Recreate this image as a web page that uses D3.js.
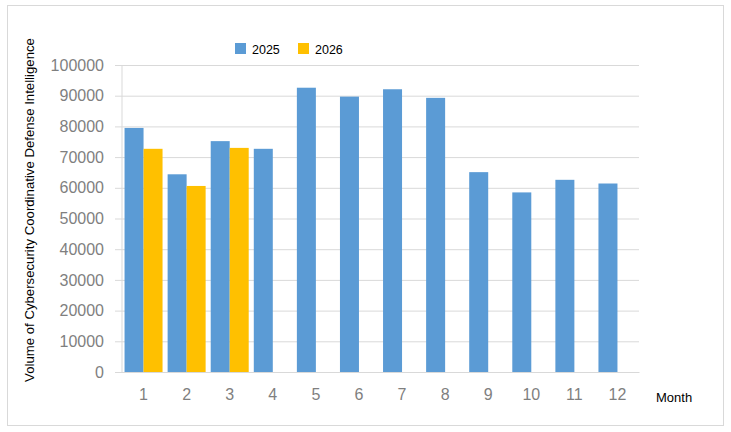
<!DOCTYPE html>
<html>
<head>
<meta charset="utf-8">
<script src="https://cdn.jsdelivr.net/npm/d3@7"></script>
<style>
  html, body { margin: 0; padding: 0; background: #fff; }
  svg { display: block; font-family: "Liberation Sans", Arial, sans-serif; }
</style>
</head>
<body>
<svg id="chart" width="731" height="432"></svg>
<script>
// --- DATA ---
var months = ["1", "2", "3", "4", "5", "6", "7", "8", "9", "10", "11", "12"];
var seriesNames = ["2025", "2026"];
var values2025 = [79500, 64400, 75200, 72700, 92600, 89700, 92100, 89300, 65100, 58500, 62600, 61400];
var values2026 = [72700, 60600, 73000, null, null, null, null, null, null, null, null, null];
var yTicks = [0, 10000, 20000, 30000, 40000, 50000, 60000, 70000, 80000, 90000, 100000];
var colors = ["#5b9bd5", "#ffc000"];

// --- LAYOUT ---
var svg = d3.select("#chart");
var plot = { left: 122, right: 639, top: 65, bottom: 372 };

// outer frame
svg.append("rect")
    .attr("x", 7.5).attr("y", 5.5)
    .attr("width", 716).attr("height", 420)
    .attr("fill", "#fff")
    .attr("stroke", "#d9d9d9")
    .attr("stroke-width", 1);

var x = d3.scaleBand()
    .domain(months)
    .range([plot.left, plot.right])
    .paddingInner(0.118)
    .paddingOuter(0.059);

var xSub = d3.scaleBand()
    .domain(seriesNames)
    .range([0, x.bandwidth()]);

var y = d3.scaleLinear()
    .domain([0, 100000])
    .range([plot.bottom, plot.top]);

// --- GRIDLINES + Y AXIS ---
var yAxis = d3.axisLeft(y)
    .tickValues(yTicks)
    .tickSize(plot.right - plot.left + 7)
    .tickPadding(11)
    .tickFormat(d3.format("d"));

var gy = svg.append("g")
    .attr("transform", "translate(" + plot.right + ",0)")
    .call(yAxis);
gy.select(".domain").remove();
gy.selectAll(".tick line").attr("stroke", "#d9d9d9");
gy.selectAll(".tick text")
    .attr("fill", "#7f7f7f")
    .style("font-size", "16px");

// vertical axis line
svg.append("line")
    .attr("x1", plot.left).attr("x2", plot.left)
    .attr("y1", plot.top).attr("y2", plot.bottom)
    .attr("stroke", "#d9d9d9");

// --- BARS ---
var rows = months.map(function(m, i) {
    return { month: m, vals: [values2025[i], values2026[i]] };
});

var groups = svg.append("g").selectAll("g")
    .data(rows)
    .enter().append("g")
    .attr("transform", function(d) { return "translate(" + x(d.month) + ",0)"; });

groups.selectAll("rect")
    .data(function(d) {
        return seriesNames.map(function(s, j) { return { key: s, value: d.vals[j], idx: j }; })
            .filter(function(e) { return e.value != null; });
    })
    .enter().append("rect")
    .attr("x", function(d) { return xSub(d.key); })
    .attr("width", xSub.bandwidth())
    .attr("y", function(d) { return y(d.value); })
    .attr("height", function(d) { return y(0) - y(d.value); })
    .attr("fill", function(d) { return colors[d.idx]; });

// --- X AXIS ---
var xAxis = d3.axisBottom(x).tickSize(0).tickPadding(17);
var gx = svg.append("g")
    .attr("transform", "translate(0," + plot.bottom + ")")
    .call(xAxis);
gx.select(".domain").attr("stroke", "#d9d9d9");
gx.selectAll(".tick text")
    .attr("fill", "#7f7f7f")
    .style("font-size", "16px");

svg.append("text")
    .attr("x", 656)
    .attr("y", 401.5)
    .attr("fill", "#000")
    .style("font-size", "13px")
    .text("Month");

// --- Y TITLE ---
svg.append("text")
    .attr("transform", "translate(34,210) rotate(-90)")
    .attr("text-anchor", "middle")
    .attr("fill", "#000")
    .style("font-size", "13.2px")
    .text("Volume of Cybersecurity Coordinative Defense Intelligence");

// --- LEGEND ---
var legendX = [235, 298];
var legend = svg.append("g").selectAll("g")
    .data(seriesNames)
    .enter().append("g")
    .attr("transform", function(d, i) { return "translate(" + legendX[i] + ",43)"; });
legend.append("rect")
    .attr("width", 11).attr("height", 11)
    .attr("fill", function(d, i) { return colors[i]; });
legend.append("text")
    .attr("x", 17).attr("y", 10.5)
    .attr("fill", "#000")
    .style("font-size", "12.5px")
    .text(function(d) { return d; });
</script>
</body>
</html>
